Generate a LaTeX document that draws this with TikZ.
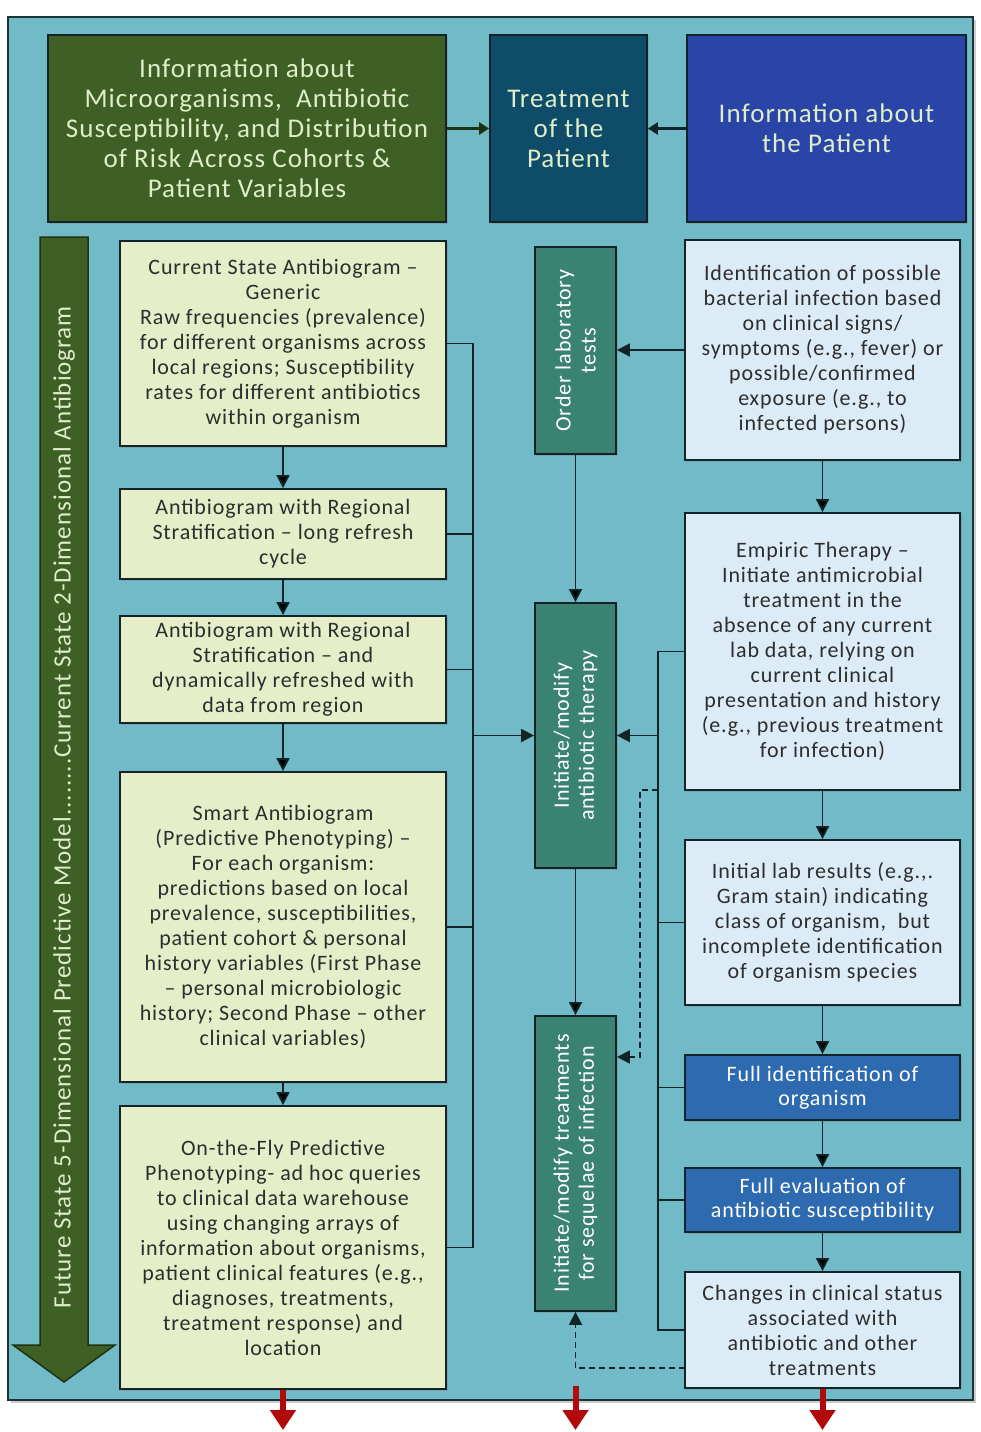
\documentclass[tikz,border=0pt]{standalone}
\usepackage{fontspec}
\setmainfont{Carlito}[LetterSpace=4]
\usetikzlibrary{arrows.meta,shadows}

\definecolor{framebg}{RGB}{113,186,200}
\definecolor{frameedge}{RGB}{30,50,55}
\definecolor{hdrgreen}{RGB}{62,96,36}
\definecolor{hdrgreenedge}{RGB}{30,50,18}
\definecolor{hdrtext}{RGB}{222,238,200}
\definecolor{treatblue}{RGB}{14,76,106}
\definecolor{patblue}{RGB}{42,68,168}
\definecolor{abgfill}{RGB}{228,239,202}
\definecolor{boxtext}{RGB}{45,45,45}
\definecolor{midteal}{RGB}{58,130,114}
\definecolor{ptfill}{RGB}{220,236,247}
\definecolor{fullblue}{RGB}{46,106,176}
\definecolor{darkline}{RGB}{20,35,40}
\definecolor{outred}{RGB}{178,10,10}

\begin{document}
\begin{tikzpicture}[x=1pt,y=-1pt,line width=1.8pt,
    box/.style = {draw=darkline, align=center, inner sep=0pt, line width=1.8pt,
        drop shadow={opacity=0.35,shadow xshift=2pt,shadow yshift=-2pt}},
    hdr/.style = {box, text=hdrtext, minimum height=187pt,
        font=\fontsize{27}{30}\selectfont},
    abg/.style = {box, fill=abgfill, text=boxtext, minimum width=326pt,
        font=\fontsize{22}{25}\selectfont},
    mid/.style = {box, fill=midteal, text=white, rotate=90, minimum height=81pt,
        font=\fontsize{22}{25}\selectfont},
    pt/.style = {box, fill=ptfill, text=boxtext, minimum width=275pt,
        font=\fontsize{22}{25}\selectfont},
    lab/.style = {box, fill=fullblue, text=white, minimum width=275pt,
        font=\fontsize{22}{24}\selectfont},
    link/.style = {draw=darkline, -{Triangle[width=13pt,length=13pt]}},
    dlink/.style = {link, dashed, dash pattern=on 6pt off 4pt},
    outarrow/.style = {draw=outred, line width=6pt, -{Triangle[width=25pt,length=20pt]}}]

    \useasboundingbox (0,0) rectangle (980,1432);
    \filldraw[fill=framebg, draw=frameedge, line width=1.5pt,
        drop shadow={opacity=0.4,shadow xshift=3pt,shadow yshift=-3pt}]
        (8,17) rectangle (973,1400);

    % header row
    \node[hdr, fill=hdrgreen, minimum width=398pt] (G) at (247,128.5)
        {Information about\\Microorganisms,\ \ Antibiotic\\Susceptibility, and Distribution\\of Risk Across Cohorts \&\\Patient Variables};
    \node[hdr, fill=treatblue, minimum width=157pt] (T) at (568.5,128.5)
        {Treatment\\of the\\Patient};
    \node[hdr, fill=patblue, minimum width=279pt] (P) at (826.5,128.5)
        {Information about\\the Patient};

    % big arrow on the left
    \filldraw[fill=hdrgreen, draw=hdrgreenedge, line width=1.5pt]
        (40,237) -- (88,237) -- (88,1345) -- (115,1345) -- (64,1382)
        -- (13,1345) -- (40,1345) -- cycle;
    \node[rotate=90, text=hdrtext, font=\fontsize{25}{28}\selectfont] (scale) at (64,807)
        {Future State 5-Dimensional Predictive Model........Current State 2-Dimensional Antibiogram};

    % antibiogram column
    \node[abg, minimum height=205pt] (L1) at (283,343.5)
        {Current State Antibiogram --\\Generic\\Raw frequencies (prevalence)\\for different organisms across\\local regions; Susceptibility\\rates for different antibiotics\\within organism};
    \node[abg, minimum height=90pt] (L2) at (283,534)
        {Antibiogram with Regional\\Stratification -- long refresh\\cycle};
    \node[abg, minimum height=107pt] (L3) at (283,669.5)
        {Antibiogram with Regional\\Stratification -- and\\dynamically refreshed with\\data from region};
    \node[abg, minimum height=310pt] (L4) at (283,927)
        {Smart Antibiogram\\(Predictive Phenotyping) --\\For each organism:\\predictions based on local\\prevalence, susceptibilities,\\patient cohort \& personal\\history variables (First Phase\\-- personal microbiologic\\history; Second Phase -- other\\clinical variables)};
    \node[abg, minimum height=283pt] (L5) at (283,1247.5)
        {On-the-Fly Predictive\\Phenotyping- ad hoc queries\\to clinical data warehouse\\using changing arrays of\\information about organisms,\\patient clinical features (e.g.,\\diagnoses, treatments,\\treatment response) and\\location};

    % treatment column (rotated: north = left side, south = right side)
    \node[mid, minimum width=207pt] (M1) at (575.5,350.5)
        {Order laboratory\\tests};
    \node[mid, minimum width=265pt] (M2) at (575.5,735.5)
        {Initiate/modify\\antibiotic therapy};
    \node[mid, minimum width=295pt] (M3) at (575.5,1163.5)
        {Initiate/modify treatments\\for sequelae of infection};

    % patient column
    \node[pt, minimum height=220pt] (R1) at (822.5,350)
        {Identification of possible\\bacterial infection based\\on clinical signs/\\symptoms (e.g., fever) or\\possible/confirmed\\exposure (e.g., to\\infected persons)};
    \node[pt, minimum height=277pt] (R2) at (822.5,651.5)
        {Empiric Therapy --\\Initiate antimicrobial\\treatment in the\\absence of any current\\lab data, relying on\\current clinical\\presentation and history\\(e.g., previous treatment\\for infection)};
    \node[pt, minimum height=165pt] (R3) at (822.5,922.5)
        {Initial lab results (e.g.,.\\Gram stain) indicating\\class of organism,\ \ but\\incomplete identification\\of organism species};
    \node[lab, minimum height=65pt] (R4) at (822.5,1087.5)
        {Full identification of\\organism};
    \node[lab, minimum height=64pt] (R5) at (822.5,1200)
        {Full evaluation of\\antibiotic susceptibility};
    \node[pt, minimum height=116pt] (R6) at (822.5,1330)
        {Changes in clinical status\\associated with\\antibiotic and other\\treatments};

    \coordinate (lbus) at (473,1247.5);
    \coordinate (rbus) at (658,1330);
    \coordinate (dA) at (658,790);
    \coordinate (dB) at (640,1057);
    \coordinate (dC) at (685,1368);
    \coordinate (outMs) at (575.5,1386);
    \coordinate (outL) at (285,1430);

    % header arrows
    \draw[draw=hdrgreenedge, line width=3pt, -{Triangle[width=12pt,length=10pt]}] (G.east) -- (T.west);
    \draw[draw=darkline, line width=3pt, -{Triangle[width=12pt,length=10pt]}] (P.west) -- (T.east);

    % flow arrows
    \path[link]
        (L1) edge (L2)
        (L2) edge (L3)
        (L3) edge (L4)
        (L4) edge (L5)
        (M1) edge (M2)
        (M2) edge (M3)
        (R1) edge (R2)
        (R2) edge (R3)
        (R3) edge (R4)
        (R4) edge (R5)
        (R5) edge (R6);
    \draw[link] (R1.west) -- (R1.west -| M1.south);

    % left bus
    \draw[draw=darkline] (L1.east) -| (lbus) -- (L5.east);
    \draw[draw=darkline] (L2.east) -- (L2.east -| lbus);
    \draw[draw=darkline] (L3.east) -- (L3.east -| lbus);
    \draw[draw=darkline] (L4.east) -- (L4.east -| lbus);
    \draw[link] (M2.north -| lbus) -- (M2.north);

    % right bus
    \draw[draw=darkline] (R2.west) -| (rbus) -- (R6.west);
    \draw[draw=darkline] (R3.west) -- (R3.west -| rbus);
    \draw[draw=darkline] (R4.west) -- (R4.west -| rbus);
    \draw[draw=darkline] (R5.west) -- (R5.west -| rbus);
    \draw[link] (M2.south -| rbus) -- (M2.south);

    % dashed feedback
    \draw[dlink] (dA) -| (dB) -- (dB -| M3.south);
    \draw[dlink] (dC) -| (M3.west);

    % leaving the frame
    \draw[outarrow] (L5.south) -- (L5.south |- outL);
    \draw[outarrow] (outMs) -- (outMs |- outL);
    \draw[outarrow] (R6.south) -- (R6.south |- outL);
\end{tikzpicture}
\end{document}
